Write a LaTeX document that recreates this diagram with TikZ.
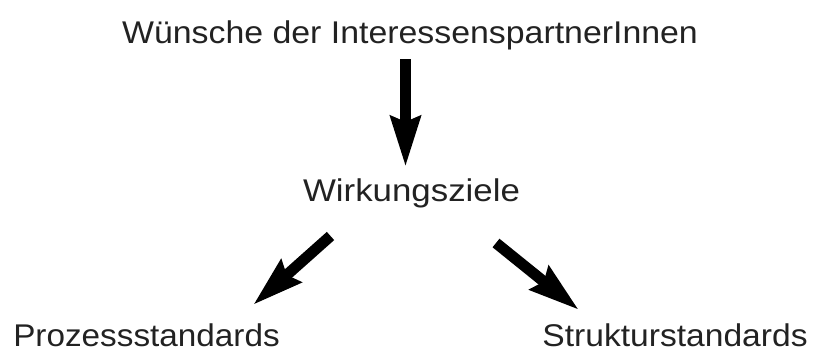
\documentclass[tikz,border=0pt]{standalone}
\usepackage{fontspec}
\setmainfont{Liberation Sans}
\usetikzlibrary{arrows.meta}
\definecolor{txt}{HTML}{222222}
\begin{document}
\begin{tikzpicture}[x=1pt,y=-1pt,
  lbl/.style={anchor=base,inner sep=0pt,text=txt,font=\fontsize{31.4}{36}\selectfont},
  bigarrow/.style={line width=11pt,-{Stealth[length=50pt,width=29pt,inset=5pt]}}]
\useasboundingbox (0,0) rectangle (815,351);
\node[lbl,xscale=1.078] (title) at (410,43) {Wünsche der InteressenspartnerInnen};
\node[lbl,xscale=1.11] (wz) at (411.5,201) {Wirkungsziele};
\node[lbl,xscale=1.06] (ps) at (146.5,346) {Prozessstandards};
\node[lbl,xscale=1.07] (ss) at (675,346) {Strukturstandards};
\coordinate (a1s) at (405.5,59);
\coordinate (a1e) at (405.5,167);
\coordinate (a2s) at (330.5,236);
\coordinate (a2e) at (253,305);
\coordinate (a3s) at (496,243);
\coordinate (a3e) at (579,310);
\draw[bigarrow] (a1s) -- (a1e);
\draw[bigarrow] (a2s) -- (a2e);
\draw[bigarrow] (a3s) -- (a3e);
\end{tikzpicture}
\end{document}
